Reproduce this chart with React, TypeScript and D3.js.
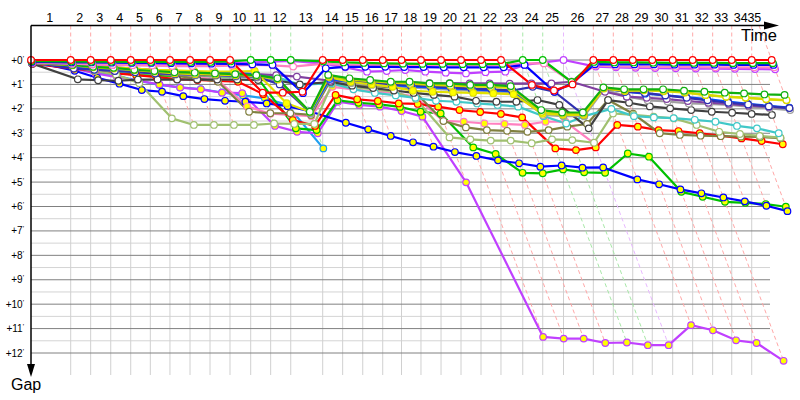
import React from "react";
import * as d3 from "d3";

// Leader's cumulative race time (minutes) at the end of each lap; index 0 = start
const lapEnd = [0, 4.41, 6.63, 8.86, 11.08, 13.26, 15.44, 17.67, 19.89, 22.11, 24.41, 26.63, 28.86, 32.41, 34.63, 36.86, 39.08, 41.17, 43.33, 45.56, 47.78, 50.0, 52.22, 54.64, 56.86, 59.17, 62.48, 64.7, 66.86, 69.03, 71.3, 73.52, 75.74, 77.86, 80.08, 82.3];
// Who led each lap (index 0 unused)
const lapLeader = ["", "red", "red", "red", "red", "red", "red", "red", "red", "red", "green", "green", "green", "red", "red", "red", "red", "red", "red", "red", "red", "red", "red", "green", "green", "violet", "red", "red", "red", "red", "red", "red", "red", "red", "red", "red"];
const lapLabels = d3.range(1, 36).map(String);
const gapTicks = d3.range(0, 13);

// Gap to the leader (minutes) at the end of each lap, lap 0 = start
const gapRedW = [0, 0, 0, 0, 0, 0, 0, 0, 0, 0, 1.34, 1.34, 1.3, 0, 0, 0, 0, 0, 0, 0, 0, 0, 0, 1.02, 1.25, 1.0, 0, 0, 0, 0, 0, 0, 0, 0, 0, 0];
const gapGreenTop = [0.05, 0.06, 0.07, 0.07, 0.08, 0.08, 0.08, 0.08, 0.08, 0.06, 0, 0, 0, 0.06, 0.1, 0.12, 0.14, 0.15, 0.16, 0.16, 0.17, 0.17, 0.16, 0, 0, 0.9, 0.08, 0.1, 0.1, 0.11, 0.12, 0.12, 0.12, 0.13, 0.13, 0.13];
const gapBlueTop = [0.08, 0.1, 0.1, 0.11, 0.12, 0.12, 0.13, 0.14, 0.15, 0.16, 0.18, 0.2, 1.36, 0.34, 0.28, 0.28, 0.28, 0.29, 0.29, 0.3, 0.3, 0.3, 0.3, 0.2, 1.3, 0.95, 0.17, 0.18, 0.18, 0.18, 0.19, 0.19, 0.19, 0.2, 0.2, 0.2];
const gapPinkTop = [0.1, 0.15, 0.18, 0.2, 0.22, 0.23, 0.25, 0.25, 0.25, 0.23, 0.2, 0.22, 0.27, 0.15, 0.2, 0.2, 0.2, 0.2, 0.2, 0.2, 0.21, 0.21, 0.2, 0.14, 0.14, 0.89, 0.22, 0.26, 0.27, 0.28, 0.28, 0.29, 0.3, 0.3, 0.3, 0.3];
const gapVioletTop = [0.12, 0.15, 0.18, 0.2, 0.2, 0.2, 0.2, 0.2, 0.17, 0.14, 0.1, 0.07, 0.04, 0.15, 0.3, 0.48, 0.45, 0.41, 0.48, 0.52, 0.55, 0.5, 0.48, 0.2, 0.1, 0, 0.27, 0.3, 0.32, 0.33, 0.34, 0.35, 0.35, 0.36, 0.37, 0.38];
const gapGreenMid = [0.1, 0.2, 0.28, 0.32, 0.4, 0.45, 0.5, 0.52, 0.55, 0.58, 0.62, 0.75, 2.12, 0.61, 0.75, 0.82, 0.89, 0.89, 0.96, 0.96, 1.02, 1.02, 1.07, 2.05, 2.15, 2.15, 1.12, 1.2, 1.2, 1.2, 1.26, 1.3, 1.34, 1.37, 1.41, 1.43];
const gapYellowW = [0.12, 0.22, 0.3, 0.35, 0.42, 0.48, 0.55, 0.58, 0.6, 0.62, 0.65, 0.8, 2.14, 0.65, 0.8, 0.87, 0.93, 0.97, 1.02, 1.05, 1.08, 1.1, 1.14, 2.12, 2.2, 2.2, 1.15, 1.25, 1.22, 1.26, 1.32, 1.43, 1.5, 1.54, 1.6, 1.64];
const gapYellowY = [0.1, 0.18, 0.25, 0.3, 0.35, 0.4, 0.42, 0.45, 0.47, 0.47, 0.45, 1.77, 2.12, 0.7, 0.9, 1.0, 1.1, 1.26, 1.3, 1.33, 1.35, 1.37, 1.4, 2.2, 2.25, 2.25, 1.17, 1.27, 1.24, 1.28, 1.34, 1.44, 1.51, 1.55, 1.61, 1.65];
const gapNavyW = [0.1, 0.35, 0.4, 0.45, 0.5, 0.55, 0.58, 0.6, 0.62, 0.65, 0.68, 1.0, 2.12, 0.72, 0.85, 0.93, 1.0, 1.03, 1.08, 1.12, 1.17, 1.2, 1.25, 1.1, 1.3, 2.25, 1.15, 1.3, 1.35, 1.45, 1.55, 1.65, 1.75, 1.82, 1.9, 1.97];
const gapBlueMid = [0.1, 0.3, 0.35, 0.4, 0.45, 0.48, 0.5, 0.52, 0.53, 0.55, 0.58, 0.85, 2.15, 0.78, 0.9, 0.97, 1.03, 1.08, 1.12, 1.16, 1.2, 1.24, 1.28, 2.15, 2.25, 2.2, 1.15, 1.3, 1.38, 1.45, 1.52, 1.6, 1.7, 1.8, 1.88, 1.95];
const gapPlumW = [0.1, 0.2, 0.25, 0.3, 0.35, 0.4, 0.45, 0.5, 0.52, 0.55, 0.58, 0.62, 0.68, 0.85, 0.87, 0.9, 0.92, 0.93, 0.95, 0.95, 0.96, 0.96, 0.97, 0.96, 0.96, 0.89, 1.3, 1.5, 1.55, 1.6, 1.68, 1.75, 1.8, 1.87, 1.92, 1.96];
const gapGrayW = [0.12, 0.3, 0.38, 0.45, 0.5, 0.55, 0.6, 0.63, 0.65, 0.68, 0.72, 0.9, 2.2, 0.8, 0.95, 1.02, 1.08, 1.12, 1.17, 1.22, 1.26, 1.3, 1.33, 2.25, 2.3, 2.3, 1.2, 1.5, 1.65, 1.7, 1.78, 1.8, 1.84, 1.91, 1.98, 2.05];
const gapBlackW = [0.15, 0.79, 0.83, 0.85, 0.8, 0.8, 0.8, 0.8, 0.8, 0.8, 0.82, 0.85, 1.0, 0.9, 1.05, 1.15, 1.25, 1.35, 1.43, 1.5, 1.67, 1.71, 1.71, 1.64, 1.84, 2.8, 1.64, 1.75, 1.9, 1.98, 2.05, 2.12, 2.16, 2.21, 2.25];
const gapCyanW = [0.12, 0.3, 0.4, 0.45, 0.5, 0.52, 0.55, 0.57, 0.58, 0.6, 0.62, 0.7, 1.02, 0.95, 1.2, 1.35, 1.45, 1.55, 1.67, 1.71, 1.78, 1.84, 1.91, 2.3, 2.6, 2.3, 2.0, 2.3, 2.35, 2.38, 2.45, 2.53, 2.7, 2.8, 3.0];
const gapLightOliveW = [0.1, 0.3, 0.45, 0.6, 0.95, 2.39, 2.66, 2.66, 2.66, 2.66, 2.6, 2.62, 2.62, 1.0, 1.1, 1.2, 1.3, 1.6, 3.17, 3.25, 3.3, 3.3, 3.41, 3.25, 3.28, 3.39, 2.19, 2.25, 2.32, 2.39, 2.66, 2.94, 3.03, 3.11, 3.18];
const gapOliveW = [0.12, 0.25, 0.3, 0.35, 0.45, 0.55, 0.65, 0.75, 0.89, 2.12, 2.18, 2.18, 2.25, 0.85, 1.0, 1.07, 1.12, 1.2, 2.5, 2.76, 2.87, 2.9, 2.94, 2.87, 2.73, 2.62, 1.64, 2.2, 3.0, 3.07, 3.1, 3.12, 3.14, 3.15, 3.2];
const gapRedY = [0.15, 0.35, 0.45, 0.55, 0.62, 0.7, 0.78, 0.82, 0.86, 0.89, 1.4, 2.46, 2.7, 1.43, 1.61, 1.68, 1.78, 1.8, 1.91, 2.05, 2.13, 2.21, 2.35, 3.62, 3.69, 3.58, 2.66, 2.73, 2.87, 2.91, 3.0, 3.1, 3.21, 3.32, 3.45];
const gapBlueY = [0.05, 0.44, 0.73, 0.97, 1.23, 1.3, 1.48, 1.6, 1.67, 1.71, 1.78, 1.89, 2.1, 2.57, 2.84, 3.11, 3.37, 3.55, 3.77, 3.93, 4.11, 4.23, 4.37, 4.32, 4.41, 4.4, 4.89, 5.09, 5.3, 5.46, 5.63, 5.79, 5.97, 6.19];
const gapGreenY = [0.1, 0.3, 0.4, 0.5, 0.62, 0.64, 0.65, 0.66, 0.67, 0.68, 0.7, 2.8, 2.87, 1.65, 1.75, 1.82, 1.92, 2.12, 2.19, 3.58, 3.85, 4.62, 4.64, 4.48, 4.6, 4.62, 3.83, 3.96, 5.4, 5.6, 5.81, 5.85, 5.9, 6.01];
const gapPurpleY = [0.15, 0.35, 0.55, 0.7, 0.85, 1.0, 1.13, 1.2, 1.34, 1.36, 2.7, 2.94, 3.0, 1.71, 1.84, 1.91, 2.09, 2.32, 5.01, 11.34, 11.41, 11.41, 11.59, 11.57, 11.68, 11.68, 10.86, 11.07, 11.48, 11.59, 12.32];
const gapSkyY = [0.1, 0.3, 0.5, 0.65, 0.85, 1.02, 1.12, 1.19, 1.33, 1.45, 1.57, 1.84, 3.62];
const gapPinkY = [0.1, 0.25, 0.35, 0.42, 0.5, 0.55, 0.62, 0.7, 0.8, 1.9, 2.2, 2.25, 2.3, 1.1, 1.2, 1.3, 1.35, 1.5, 2.49, 2.53, 2.6, 2.62, 2.66, 2.53, 2.53, 3.41];

// drawing order: first is drawn at the bottom
const series = [
  { gaps: gapSkyY, color: "#20a0f0", fill: "#ffff00" },
  { gaps: gapPurpleY, color: "#c040ff", fill: "#ffff00" },
  { gaps: gapGreenY, color: "#00c000", fill: "#ffff00" },
  { gaps: gapBlueY, color: "#0000ff", fill: "#ffff00" },
  { gaps: gapPinkY, color: "#ff80c0", fill: "#ffff00" },
  { gaps: gapRedY, color: "#ff0000", fill: "#ffff00" },
  { gaps: gapOliveW, color: "#808040", fill: "#ffffff" },
  { gaps: gapLightOliveW, color: "#a0c070", fill: "#ffffff" },
  { gaps: gapCyanW, color: "#40c8c8", fill: "#ffffff" },
  { gaps: gapBlackW, color: "#404040", fill: "#ffffff" },
  { gaps: gapGrayW, color: "#a0a0a0", fill: "#ffffff" },
  { gaps: gapPlumW, color: "#8040a0", fill: "#ffffff" },
  { gaps: gapBlueMid, color: "#0050ff", fill: "#ffffff" },
  { gaps: gapNavyW, color: "#3030b0", fill: "#ffffff" },
  { gaps: gapYellowY, color: "#e0e000", fill: "#ffff00" },
  { gaps: gapYellowW, color: "#d8d800", fill: "#ffffff" },
  { gaps: gapGreenMid, color: "#10b010", fill: "#ffffff" },
  { gaps: gapVioletTop, color: "#c040ff", fill: "#ffffff" },
  { gaps: gapPinkTop, color: "#ff80c0", fill: "#ffffff" },
  { gaps: gapBlueTop, color: "#0000ff", fill: "#ffffff" },
  { gaps: gapGreenTop, color: "#00c000", fill: "#ffffff" },
  { gaps: gapRedW, color: "#ff0000", fill: "#ffffff" },
];

const dashColor: Record<string, string> = { red: "#ffa8a8", green: "#a8e8a8", violet: "#e8b8ff" };
const FONT = "'Liberation Sans', Arial, sans-serif";

export default function App() {
  const x = d3.scaleLinear().domain([0, 82.3]).range([31, 771.7]);
  const y = d3.scaleLinear().domain([0, 12]).range([60, 353]);
  const axisY = 25.5;
  const axisX = 31;
  const gridBottom = 375;
  const gridRight = 770;
  const gTop = y.invert(axisY);
  const nLaps = lapEnd.length - 1;

  const maxGap = lapEnd.map((_, i) => {
    const vals = series.filter((s) => s.gaps.length > i).map((s) => s.gaps[i]);
    return vals.length ? (d3.max(vals) as number) : 0;
  });

  const line = d3.line<[number, number]>().x((d) => d[0]).y((d) => d[1]);
  const pts = (gaps: number[]) => gaps.map((g, i) => [x(lapEnd[i] + g), y(g)] as [number, number]);

  const halfTicks = d3.range(0.5, 12.5, 1);

  return (
    <div style={{ position: "absolute", left: 0, top: 0 }}>
      <svg width={800} height={400} style={{ display: "block", background: "#fff" }}>
        {halfTicks.map((g) => (
          <line key={"h" + g} x1={axisX} x2={gridRight} y1={y(g)} y2={y(g)} stroke="#d4d4d4" strokeWidth={1} />
        ))}
        {lapEnd.slice(1, nLaps).map((t, i) => (
          <line key={"v" + i} x1={x(t)} x2={x(t)} y1={y(0)} y2={gridBottom} stroke="#d0d0d0" strokeWidth={1} />
        ))}
        {gapTicks.map((g) => (
          <line key={"H" + g} x1={axisX} x2={gridRight} y1={y(g)} y2={y(g)} stroke="#808080" strokeWidth={1} />
        ))}
        {lapEnd.map((t, i) => {
          if (i === 0) return null;
          const c = dashColor[lapLeader[i]];
          const last = i === nLaps;
          return (
            <g key={"d" + i}>
              {last ? (
                <line x1={x(t + gTop)} y1={axisY} x2={x(t)} y2={y(0)} stroke={c} strokeWidth={1} strokeDasharray="4,3" />
              ) : (
                <line x1={x(t)} y1={axisY} x2={x(t)} y2={y(0)} stroke={c} strokeWidth={1} strokeDasharray="4,3" />
              )}
              <line x1={x(t)} y1={y(0)} x2={x(t + maxGap[i])} y2={y(maxGap[i])} stroke={c} strokeWidth={1} strokeDasharray="4,3" />
            </g>
          );
        })}
        {series.map((s, k) => (
          <path key={"p" + k} d={line(pts(s.gaps)) || ""} fill="none" stroke={s.color} strokeWidth={2.2} strokeLinejoin="round" />
        ))}
        {series.map((s, k) => (
          <g key={"m" + k}>
            {pts(s.gaps).map((p, i) => (
              <circle key={i} cx={p[0]} cy={p[1]} r={3.3} fill={s.fill} stroke={s.color} strokeWidth={1.2} />
            ))}
          </g>
        ))}
        <line x1={axisX} x2={766} y1={axisY} y2={axisY} stroke="#000" strokeWidth={1.5} />
        <polygon points={`764,21.5 779,25.5 764,29.5`} fill="#000" />
        <line x1={axisX} x2={axisX} y1={axisY} y2={366} stroke="#000" strokeWidth={1.5} />
        <polygon points={`27,364 35,364 31,377`} fill="#000" />
        {lapLabels.map((lab, k) => {
          const i = k + 1;
          const left = x(lapEnd[i - 1]);
          const right = i === nLaps ? x(lapEnd[i] + gTop) : x(lapEnd[i]);
          return (
            <text key={"l" + i} x={(left + right) / 2 - 1} y={21.5} fontSize={12.5} fontFamily={FONT} textAnchor="middle" fill="#000">
              {lab}
            </text>
          );
        })}
        {gapTicks.map((g) => (
          <text key={"t" + g} x={24} y={y(g) + 3.5} fontSize={10} fontFamily={FONT} textAnchor="end" fill="#000">
            {"+" + g}
            <tspan fontSize={7} dy={-3}>'</tspan>
          </text>
        ))}
        <text x={777} y={41} fontSize={16.5} fontFamily={FONT} textAnchor="end" fill="#000">Time</text>
        <text x={11} y={390} fontSize={16} fontFamily={FONT} fill="#000">Gap</text>
      </svg>
    </div>
  );
}
